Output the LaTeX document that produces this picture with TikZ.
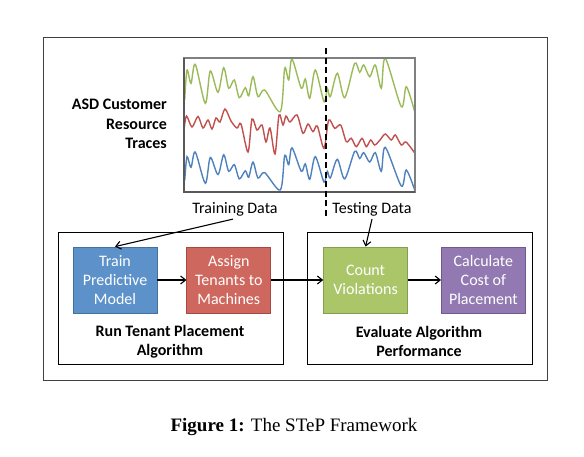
\documentclass[tikz,border=0pt]{standalone}
\usepackage{fontspec}
\setmainfont{Carlito}
\newfontfamily\capfont{Liberation Serif}
\usetikzlibrary{arrows.meta,positioning}

\definecolor{bluefill}{RGB}{92,146,201}
\definecolor{blueline}{RGB}{66,113,158}
\definecolor{redfill}{RGB}{206,103,93}
\definecolor{redline}{RGB}{168,72,66}
\definecolor{greenfill}{RGB}{171,198,105}
\definecolor{greenline}{RGB}{132,160,78}
\definecolor{purplefill}{RGB}{146,121,178}
\definecolor{purpleline}{RGB}{110,89,145}
\definecolor{tracegreen}{RGB}{155,187,89}
\definecolor{tracered}{RGB}{192,80,77}
\definecolor{traceblue}{RGB}{79,129,189}

\tikzset{
  stage/.style={draw, minimum width=84pt, minimum height=66pt, inner sep=0pt,
    align=center, text=white, line width=0.8pt, font=\fontsize{16}{19}\selectfont},
  flow/.style={-{Straight Barb[length=5pt,width=8pt]}, line width=1.1pt},
  trace/.style={line width=1.4pt},
  lbl/.style={inner sep=0pt, font=\fontsize{16}{19}\selectfont},
  grouptitle/.style={inner sep=0pt, align=center, font=\fontsize{16}{19}\selectfont\bfseries}
}

\newcommand\topwave{plot[smooth,tension=0.5] coordinates {(184.7,100) (187,70) (191,83.3) (195.3,64.3) (205.3,103.3) (210.3,71) (218,92.3) (223.7,67.7) (228.7,88.3) (234.3,80) (239.3,97.7) (245.3,87.7) (248.7,95.7) (253,76.7) (258,96.7) (264.7,90) (280.3,111.7) (284.7,68.3) (288.7,80) (292,59) (301.3,88.3) (305.3,79) (309.7,98.3) (315.3,70) (324,101.7) (327.3,88.3) (330.3,96.7) (337.3,73.3) (344.7,97.7) (354.7,63.3) (359.7,72.3) (363.7,65) (369.7,76.7) (375.3,65) (381.3,88.3) (385.3,58.3) (401.3,106.7) (406.3,86.7) (414.7,111.7)}}
\newcommand\midwave{plot[smooth,tension=0.5] coordinates {(184,130) (186.5,116) (192,127) (198,116.5) (203,128) (208,120) (212,129) (216,118) (220,122) (225,109) (231,121) (237,128) (241,124) (248,152) (252,119) (257,130) (262,125) (266,142) (270,128) (275,154) (279,115) (283,125) (286,116) (290,122) (297,115) (303,133.3) (308,124) (313,131.7) (317.3,126) (324,148.3) (328.7,120) (334.7,128.3) (340.7,125) (346.3,141.7) (351.3,138.3) (356.3,146.7) (362,138.3) (366.3,146.7) (370.7,140) (374.7,145) (380,140) (385.3,134) (391.3,140) (395.3,135) (401.3,145) (406,142) (414.7,153)}}

\begin{document}
\begin{tikzpicture}[x=1pt,y=-1pt]
  \useasboundingbox (0,0) rectangle (584,456);

  % outer frame
  \draw[line width=0.9pt, black!75] (43,37) rectangle (547,380);

  % resource traces
  \draw[trace, tracegreen] \topwave;
  \draw[trace, tracered] \midwave;
  \begin{scope}[yshift=-100.66pt, yscale=0.8]
    \draw[trace, traceblue] \topwave;
  \end{scope}
  \draw[line width=1.1pt, black!50] (184,58) rectangle (415,192);
  \draw[line width=1.4pt, black!65] (184,58) |- (415,192);
  \draw[line width=1.3pt, dashed, dash pattern=on 6pt off 3.5pt] (326,48) -- (326,217);

  \node[lbl, align=right, anchor=east, font=\fontsize{16}{19.5}\selectfont\bfseries] (traces) at (167,124) {ASD Customer\\Resource\\Traces};
  \node[lbl] (trainlbl) at (235,209) {Training Data};
  \node[lbl] (testlbl) at (372,209) {Testing Data};

  % the two stages
  \draw[line width=0.8pt] (58,232) rectangle (283,364);
  \draw[line width=0.8pt] (307,232) rectangle (532,364);

  \node[stage, fill=bluefill, draw=blueline] (train) at (115,280) {Train\\Predictive\\Model};
  \node[stage, fill=redfill, draw=redline, right=29pt of train] (assign) {Assign\\Tenants to\\Machines};
  \node[stage, fill=greenfill, draw=greenline, right=52pt of assign] (count) {Count\\Violations};
  \node[stage, fill=purplefill, draw=purpleline, right=33pt of count] (cost) {Calculate\\Cost of\\Placement};

  \node[grouptitle] (runalg) at (170,341.5) {Run Tenant Placement\\Algorithm};
  \node[grouptitle] (evalalg) at (419,341.5) {Evaluate Algorithm\\Performance};

  \draw[flow] (trainlbl.south) ++(-2pt,-3pt) -- (train.north);
  \draw[flow] (testlbl.south) ++(0pt,-3pt) -- (count.north);
  \draw[flow] (train) -- (assign);
  \draw[flow] (assign) -- (count);
  \draw[flow] (count) -- (cost);

  \node[inner sep=0pt] (caption) at (294,427) {\capfont\fontsize{19}{23}\selectfont\textbf{Figure 1:} The STeP Framework};
\end{tikzpicture}
\end{document}
